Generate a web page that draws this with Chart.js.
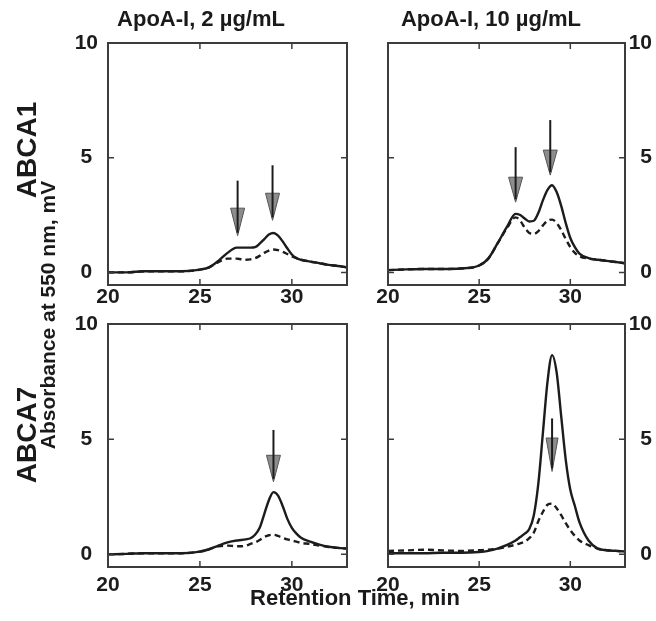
<!DOCTYPE html>
<html>
<head>
<meta charset="utf-8">
<script src="https://cdn.jsdelivr.net/npm/chart.js@4.4.1/dist/chart.umd.min.js"></script>
<style>
  body { margin: 0; background: #fff; }
  #wrap { position: relative; width: 656px; height: 621px; overflow: hidden; }
  #wrap canvas { position: absolute; left: 0; top: 0; }
  .lbl { position: absolute; font-family: "Liberation Sans", Arial, Helvetica, sans-serif; font-weight: bold;
         color: #1a1a1a; line-height: 1; white-space: nowrap; }
  .rot { transform: translate(-50%, -50%) rotate(-90deg); }
</style>
</head>
<body>
<div id="wrap">
  <canvas id="a1lo" width="656" height="621"></canvas>
  <canvas id="a1hi" width="656" height="621"></canvas>
  <canvas id="a7lo" width="656" height="621"></canvas>
  <canvas id="a7hi" width="656" height="621"></canvas>

  <div class="lbl" style="font-size:22px; left:201px; top:8px; transform:translateX(-50%)">ApoA-I, 2 µg/mL</div>
  <div class="lbl" style="font-size:22px; left:491px; top:8px; transform:translateX(-50%)">ApoA-I, 10 µg/mL</div>
  <div class="lbl rot" style="font-size:28px; left:27px; top:150px">ABCA1</div>
  <div class="lbl rot" style="font-size:28px; left:27px; top:435px">ABCA7</div>
  <div class="lbl rot" style="font-size:21px; left:47px; top:315px">Absorbance at 550 nm, mV</div>
  <div class="lbl" style="font-size:22px; left:355px; top:587px; transform:translateX(-50%)">Retention Time, min</div>
</div>

<script>
// retention time grid (min), shared by all traces
const TIME = [20, 21, 22, 23, 24, 25, 25.5, 26, 26.5, 27, 27.25, 27.5, 27.75, 28, 28.25, 28.5, 28.75,
              29, 29.25, 29.5, 29.75, 30, 30.25, 30.5, 31, 31.5, 32, 32.5, 33];

const X_TICKS = [20, 25, 30];
const Y_TICKS = [0, 5, 10];

// ABCA1, apoA-I 2 ug/mL
const a1Lo_solid  = [0, 0, 0.05, 0.05, 0.05, 0.12, 0.22, 0.5, 0.85, 1.08, 1.08, 1.08, 1.08, 1.1, 1.25, 1.45, 1.65,
                     1.72, 1.6, 1.35, 1.05, 0.78, 0.62, 0.55, 0.47, 0.4, 0.33, 0.28, 0.22];
const a1Lo_dashed = [0, 0, 0.05, 0.05, 0.05, 0.12, 0.22, 0.45, 0.6, 0.6, 0.57, 0.55, 0.57, 0.62, 0.72, 0.85, 0.95,
                     1.0, 0.97, 0.9, 0.8, 0.7, 0.62, 0.55, 0.47, 0.4, 0.33, 0.28, 0.22];
// ABCA1, apoA-I 10 ug/mL
const a1Hi_solid  = [0.1, 0.13, 0.15, 0.15, 0.17, 0.3, 0.6, 1.25, 1.95, 2.55, 2.5, 2.35, 2.22, 2.25, 2.6, 3.15, 3.6,
                     3.8, 3.5, 2.9, 2.15, 1.5, 1.1, 0.82, 0.62, 0.55, 0.5, 0.45, 0.4];
const a1Hi_dashed = [0.1, 0.13, 0.15, 0.15, 0.17, 0.3, 0.6, 1.25, 1.9, 2.4, 2.25, 1.95, 1.72, 1.68, 1.8, 2.05, 2.25,
                     2.3, 2.15, 1.85, 1.45, 1.1, 0.85, 0.7, 0.6, 0.55, 0.5, 0.45, 0.4];
// ABCA7, apoA-I 2 ug/mL
const a7Lo_solid  = [0, 0.02, 0.05, 0.05, 0.05, 0.12, 0.22, 0.38, 0.52, 0.6, 0.62, 0.65, 0.7, 0.85, 1.15, 1.75, 2.35,
                     2.7, 2.55, 2.1, 1.55, 1.15, 0.9, 0.72, 0.55, 0.42, 0.33, 0.28, 0.25];
const a7Lo_dashed = [0, 0.02, 0.05, 0.05, 0.05, 0.12, 0.22, 0.35, 0.38, 0.35, 0.35, 0.38, 0.45, 0.52, 0.62, 0.75, 0.83,
                     0.85, 0.8, 0.72, 0.65, 0.6, 0.55, 0.5, 0.45, 0.38, 0.32, 0.28, 0.25];
// ABCA7, apoA-I 10 ug/mL
const a7Hi_solid  = [0.05, 0.05, 0.05, 0.07, 0.07, 0.1, 0.15, 0.25, 0.4, 0.6, 0.75, 0.9, 1.1, 1.7, 3.1, 5.3, 7.5,
                     8.65, 7.9, 6.0, 4.1, 2.8, 2.1, 1.4, 0.6, 0.25, 0.18, 0.15, 0.12];
const a7Hi_dashed = [0.15, 0.17, 0.2, 0.17, 0.15, 0.18, 0.2, 0.25, 0.32, 0.42, 0.48, 0.55, 0.7, 0.95, 1.45, 1.85, 2.15,
                     2.2, 2.0, 1.7, 1.35, 1.05, 0.8, 0.6, 0.4, 0.25, 0.18, 0.15, 0.12];

// arrows: [time, shaft top, head top, tip] in mV
const a1Lo_arrows = [[27.05, 4.0, 2.8, 1.6], [28.95, 4.67, 3.45, 2.27]];
const a1Hi_arrows = [[27.0, 5.46, 4.15, 3.06], [28.9, 6.64, 5.33, 4.24]];
const a7Lo_arrows = [[29.0, 5.4, 4.3, 3.15]];
const a7Hi_arrows = [[29.0, 5.9, 5.05, 3.6]];

const INK = '#1c1c1c';
const W = 656, H = 621;
const tickFont = { family: 'Liberation Sans', size: 21, weight: 'bold' };

const pts = vals => TIME.map((t, i) => ({ x: t, y: vals[i] }));

// box + inward tick marks
const framePlugin = {
  id: 'frame',
  afterDraw(chart) {
    const { ctx, chartArea: a, scales: { x, y } } = chart;
    ctx.save();
    ctx.strokeStyle = '#3c3c3c';
    ctx.lineWidth = 2;
    ctx.strokeRect(a.left, a.top, a.right - a.left, a.bottom - a.top);
    ctx.lineWidth = 1.5;
    ctx.beginPath();
    x.ticks.forEach(t => {
      if (t.value <= x.min || t.value >= x.max) return;
      const px = x.getPixelForValue(t.value);
      ctx.moveTo(px, a.bottom); ctx.lineTo(px, a.bottom - 6);
      ctx.moveTo(px, a.top); ctx.lineTo(px, a.top + 6);
    });
    y.ticks.forEach(t => {
      if (t.value <= y.min || t.value >= y.max) return;
      const py = y.getPixelForValue(t.value);
      ctx.moveTo(a.left, py); ctx.lineTo(a.left + 6, py);
      ctx.moveTo(a.right, py); ctx.lineTo(a.right - 6, py);
    });
    ctx.stroke();
    ctx.restore();
  }
};

const arrowPlugin = {
  id: 'arrows',
  afterDatasetsDraw(chart, args, opts) {
    const { ctx, scales: { x, y } } = chart;
    const half = opts.headWidth / 2;
    ctx.save();
    (opts.list || []).forEach(([t, top, head, tip]) => {
      const px = x.getPixelForValue(t);
      const yTop = y.getPixelForValue(top), yHead = y.getPixelForValue(head), yTip = y.getPixelForValue(tip);
      ctx.beginPath();
      ctx.moveTo(px - half, yHead);
      ctx.lineTo(px + half, yHead);
      ctx.lineTo(px, yTip);
      ctx.closePath();
      ctx.fillStyle = '#8d8d8d';
      ctx.fill();
      ctx.strokeStyle = '#555';
      ctx.lineWidth = 1;
      ctx.stroke();
      ctx.beginPath();
      ctx.moveTo(px, yTop);
      ctx.lineTo(px, yTip - 3);
      ctx.strokeStyle = INK;
      ctx.lineWidth = 2;
      ctx.stroke();
    });
    ctx.restore();
  }
};

function makePanel(id, solid, dashed, arrows, side, box, labelGap, headWidth) {
  const yW = side === 'left' ? 48 : 27;
  const xH = 30;
  const padding = {
    left: side === 'left' ? box.left - yW : box.left,
    right: side === 'left' ? W - box.right : W - box.right - yW,
    top: box.top,
    bottom: H - box.bottom - xH
  };
  new Chart(document.getElementById(id), {
    type: 'line',
    data: {
      datasets: [
        { data: pts(solid), borderColor: INK, borderWidth: 2.4, pointRadius: 0, cubicInterpolationMode: 'monotone' },
        { data: pts(dashed), borderColor: INK, borderWidth: 2.4, borderDash: [6, 4], pointRadius: 0, cubicInterpolationMode: 'monotone' }
      ]
    },
    options: {
      responsive: false,
      animation: false,
      devicePixelRatio: 1,
      layout: { padding: padding },
      plugins: {
        legend: { display: false },
        tooltip: { enabled: false },
        arrows: { list: arrows, headWidth: headWidth }
      },
      scales: {
        x: {
          type: 'linear', position: 'bottom', min: 20, max: 33,
          grid: { display: false, drawTicks: false },
          border: { display: false },
          ticks: { font: tickFont, color: INK, padding: labelGap, maxRotation: 0, autoSkip: false },
          afterBuildTicks: s => { s.ticks = X_TICKS.map(v => ({ value: v })); },
          afterFit: s => { s.height = xH; s.paddingLeft = 0; s.paddingRight = 0; }
        },
        y: {
          type: 'linear', position: side, min: -0.55, max: 10,
          grid: { display: false, drawTicks: false },
          border: { display: false },
          ticks: { font: tickFont, color: INK, padding: 10, crossAlign: side === 'left' ? 'center' : 'far' },
          afterBuildTicks: s => { s.ticks = Y_TICKS.map(v => ({ value: v })); },
          afterFit: s => { s.width = yW; s.paddingTop = 0; s.paddingBottom = 0; }
        }
      }
    },
    plugins: [framePlugin, arrowPlugin]
  });
}

makePanel('a1lo', a1Lo_solid, a1Lo_dashed, a1Lo_arrows, 'left',  { left: 108, right: 347, top: 43, bottom: 285 }, 0, 14);
makePanel('a1hi', a1Hi_solid, a1Hi_dashed, a1Hi_arrows, 'right', { left: 388, right: 625, top: 43, bottom: 285 }, 0, 14);
makePanel('a7lo', a7Lo_solid, a7Lo_dashed, a7Lo_arrows, 'left',  { left: 108, right: 347, top: 324, bottom: 567 }, 6, 14);
makePanel('a7hi', a7Hi_solid, a7Hi_dashed, a7Hi_arrows, 'right', { left: 388, right: 625, top: 324, bottom: 567 }, 6, 12);
</script>
</body>
</html>
